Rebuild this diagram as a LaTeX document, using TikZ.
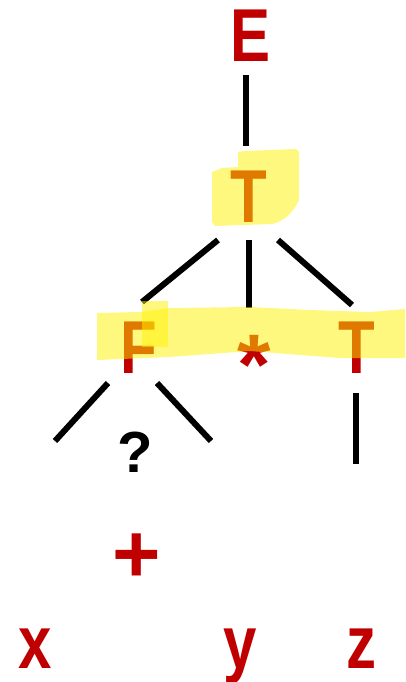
\documentclass[tikz,border=0pt]{standalone}
\usepackage{fontspec}
\setmainfont{Liberation Sans}
\newcommand\squeeze[1]{\scalebox{0.8}[1]{#1}}
\definecolor{symred}{HTML}{C00000}
\begin{document}
\begin{tikzpicture}[x=1pt,y=-1pt,
  sym/.style={text=symred, inner sep=0pt, outer sep=0pt, anchor=base,
              font=\bfseries\fontsize{75}{75}\selectfont},
  edge/.style={line width=6pt, black},
  hilite/.style={fill=yellow, fill opacity=0.5, draw=none}]
\useasboundingbox (0,0) rectangle (405,682);

% symbols of the derivation
\node[sym] (E)  at (251,62)  {\squeeze{E}};
\node[sym] (T1) at (248.5,222) {\squeeze{T}};
\node[sym] (F)  at (139,373) {\squeeze{F}};
\node[sym, font=\bfseries\fontsize{86}{86}\selectfont] (st) at (254,394) {*};
\node[sym] (T2) at (357,373) {\squeeze{T}};
\node[sym, text=black, font=\bfseries\fontsize{58}{58}\selectfont] (q) at (135,472) {?};
\node[sym, font=\bfseries\fontsize{83}{83}\selectfont] (plus) at (137,582) {+};
\node[sym] (x) at (35,668)  {\squeeze{x}};
\node[sym] (y) at (240,668) {\squeeze{y}};
\node[sym] (z) at (361.5,668) {\squeeze{z}};

% end points of the tree edges
\coordinate (eA) at (246,75);   \coordinate (eB) at (246,146);
\coordinate (tA) at (218,240);  \coordinate (tB) at (142,302);
\coordinate (tC) at (249,240);  \coordinate (tD) at (249,308);
\coordinate (tE) at (278,240);  \coordinate (tF) at (352,305);
\coordinate (fA) at (108,383);  \coordinate (fB) at (55,441);
\coordinate (fC) at (157,383);  \coordinate (fD) at (211,441);
\coordinate (rA) at (356,393);  \coordinate (rB) at (356,464);

\draw[edge] (eA) -- (eB);
\draw[edge] (tA) -- (tB);
\draw[edge] (tC) -- (tD);
\draw[edge] (tE) -- (tF);
\draw[edge] (fA) -- (fB);
\draw[edge] (fC) -- (fD);
\draw[edge] (rA) -- (rB);

% highlighter strokes
\path[hilite] (212,172) -- (222,168) -- (238,167) -- (238,152) -- (244,151)
  -- (296,149) -- (299,152) -- (299,200) .. controls (292,215) and (282,222) .. (272,224)
  -- (215,226) -- (212,222) -- cycle;
\path[hilite] (97,313) -- (140,312) -- (170,308) -- (250,307) -- (310,310)
  -- (370,312) -- (405,309) -- (405,358) -- (340,358) -- (300,355)
  -- (250,351) -- (170,357) -- (97,360) -- cycle;
\path[hilite] (142,301) rectangle (168,347);
\end{tikzpicture}
\end{document}
